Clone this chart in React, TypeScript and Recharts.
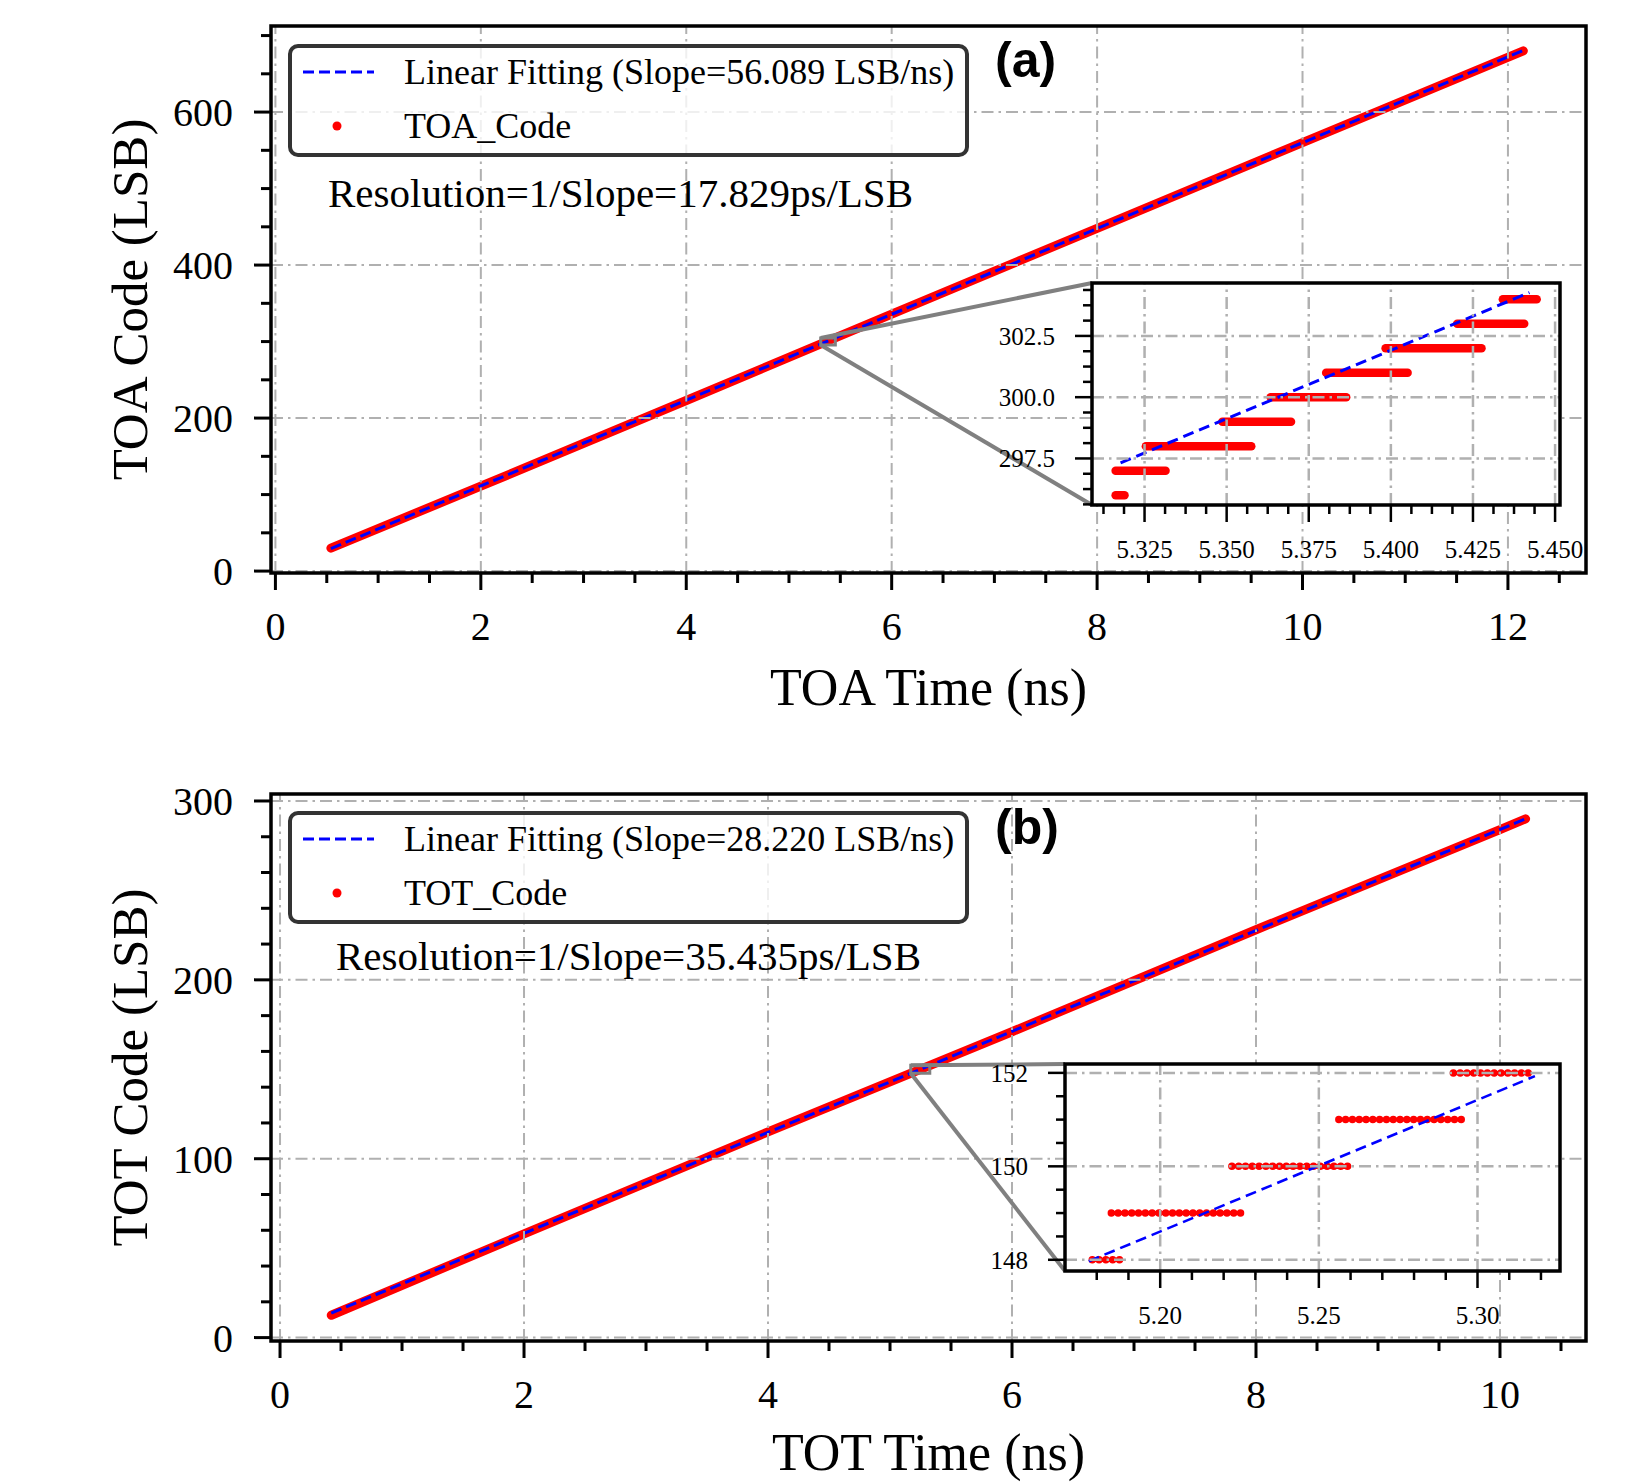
import React from 'react';
import { ComposedChart, Line, XAxis, YAxis, ReferenceLine, ReferenceArea, Legend } from 'recharts';

const SERIF = '"Liberation Serif", "Times New Roman", serif';
const SANS = '"Liberation Sans", Arial, sans-serif';
const RED = '#ff0000';
const BLUE = '#0000ff';
const GRID = '#b0b0b0';

// (a) TOA: code band and linear fit
const toaTime = [0.54, 2, 4, 6, 8, 10, 12.15];
const toaCode = [30, 111, 223, 336, 448, 560, 680];
const toaFitTime = [0.54, 12.15];
const toaFitCode = [29.4, 680.5];

// (a) zoomed steps: one code per row, from first to last sample time
const toaZoomCode = [296, 297, 298, 299, 300, 301, 302, 303, 304];
const toaZoomStart = [5.3162, 5.3162, 5.3254, 5.3487, 5.3634, 5.3803, 5.3984, 5.4202, 5.4341];
const toaZoomEnd = [5.3189, 5.3314, 5.3575, 5.3696, 5.3864, 5.4051, 5.4276, 5.4406, 5.4444];
const toaZoomFitTime = [5.3177, 5.4422];
const toaZoomFitCode = [297.32, 304.27];

// (b) TOT
const totTime = [0.42, 2, 4, 6, 8, 10, 10.21];
const totCode = [12.5, 58, 115, 171, 228, 284, 290];
const totFitTime = [0.42, 10.21];
const totFitCode = [13.7, 290];

const totZoomCode = [148, 149, 150, 151, 152];
const totZoomStart = [5.1786, 5.1846, 5.2226, 5.2563, 5.2924];
const totZoomEnd = [5.1878, 5.2258, 5.2598, 5.2956, 5.3176];
const totZoomFitTime = [5.1775, 5.3181];
const totZoomFitCode = [147.97, 151.93];

// ticks
const toaXMajor = [0, 2, 4, 6, 8, 10, 12];
const toaXMinor = [0, 0.5, 1, 1.5, 2, 2.5, 3, 3.5, 4, 4.5, 5, 5.5, 6, 6.5, 7, 7.5, 8, 8.5, 9, 9.5, 10, 10.5, 11, 11.5, 12, 12.5];
const toaYMajor = [0, 200, 400, 600];
const toaYMinor = [0, 50, 100, 150, 200, 250, 300, 350, 400, 450, 500, 550, 600, 650, 700];
const totXMajor = [0, 2, 4, 6, 8, 10];
const totXMinor = [0, 0.5, 1, 1.5, 2, 2.5, 3, 3.5, 4, 4.5, 5, 5.5, 6, 6.5, 7, 7.5, 8, 8.5, 9, 9.5, 10, 10.5];
const totYMajor = [0, 100, 200, 300];
const totYMinor = [0, 20, 40, 60, 80, 100, 120, 140, 160, 180, 200, 220, 240, 260, 280, 300];

const toaZoomXMajor = [5.325, 5.35, 5.375, 5.4, 5.425, 5.45];
const toaZoomXMinor = [5.3125, 5.31875, 5.325, 5.33125, 5.3375, 5.34375, 5.35, 5.35625, 5.3625, 5.36875, 5.375, 5.38125, 5.3875, 5.39375, 5.4, 5.40625, 5.4125, 5.41875, 5.425, 5.43125, 5.4375, 5.44375, 5.45];
const toaZoomYMajor = [297.5, 300, 302.5];
const toaZoomYMinor = [295.625, 296.25, 296.875, 297.5, 298.125, 298.75, 299.375, 300, 300.625, 301.25, 301.875, 302.5, 303.125, 303.75, 304.375];
const totZoomXMajor = [5.2, 5.25, 5.3];
const totZoomXMinor = [5.18, 5.19, 5.2, 5.21, 5.22, 5.23, 5.24, 5.25, 5.26, 5.27, 5.28, 5.29, 5.3, 5.31, 5.32];
const totZoomYMajor = [148, 150, 152];
const totZoomYMinor = [148, 148.5, 149, 149.5, 150, 150.5, 151, 151.5, 152];

// layout
const CHART_W = 1637;
const CHART_H = 741;
const PLOT_LEFT = 271;
const PLOT_W = 1315;
const PLOT_H = 547;

const isIn = (v: number, list: number[]) => list.some((m) => Math.abs(m - v) < 1e-6);

type TickOpts = { majors: number[]; fmt: (v: number) => string; major: number; minor: number; width: number; fontSize: number; gap: number };

function xTick(o: TickOpts) {
  return (p: any) => {
    const v = p.payload.value;
    const big = isIn(v, o.majors);
    return (
      <g>
        <line x1={p.x} x2={p.x} y1={p.y} y2={p.y + (big ? o.major : o.minor)} stroke="#000" strokeWidth={o.width} />
        {big && (
          <text x={p.x} y={p.y + o.gap} textAnchor="middle" fontSize={o.fontSize} fontFamily={SERIF} fill="#000">
            {o.fmt(v)}
          </text>
        )}
      </g>
    );
  };
}

function yTick(o: TickOpts) {
  return (p: any) => {
    const v = p.payload.value;
    const big = isIn(v, o.majors);
    return (
      <g>
        <line x1={p.x - (big ? o.major : o.minor)} x2={p.x} y1={p.y} y2={p.y} stroke="#000" strokeWidth={o.width} />
        {big && (
          <text x={p.x - o.gap} y={p.y} dy="0.35em" textAnchor="end" fontSize={o.fontSize} fontFamily={SERIF} fill="#000">
            {o.fmt(v)}
          </text>
        )}
      </g>
    );
  };
}

const gridProps = { stroke: GRID, strokeWidth: 2, strokeDasharray: '12 5 2.5 5', zIndex: 650 } as any;

function legendContent(props: any) {
  const items = [...(props.payload || [])].sort((a: any, b: any) => (a.type === 'line' ? 0 : 1) - (b.type === 'line' ? 0 : 1));
  const rows = [24, 78];
  return (
    <div style={{ position: 'relative', width: '100%', height: '100%', boxSizing: 'border-box', border: '4px solid #333', borderRadius: 10, background: 'rgba(255,255,255,0.8)' }}>
      {items.map((e: any, i: number) => (
        <div key={e.value} style={{ position: 'absolute', left: 0, top: rows[i] - 25, height: 50, display: 'flex', alignItems: 'center' }}>
          <svg width={112} height={50}>
            {e.type === 'line' ? (
              <line x1={11} x2={82} y1={25} y2={25} stroke={e.color} strokeWidth={3} strokeDasharray="11 5" />
            ) : (
              <circle cx={45} cy={25} r={4.5} fill={e.color} />
            )}
          </svg>
          <span style={{ fontFamily: SERIF, fontSize: 36, color: '#000', whiteSpace: 'nowrap' }}>{e.value}</span>
        </div>
      ))}
    </div>
  );
}

type Frame = { left: number; top: number; w: number; h: number };

type InsetCfg = {
  frame: Frame;
  xDomain: [number, number];
  yDomain: [number, number];
  code: number[];
  start: number[];
  end: number[];
  fitTime: number[];
  fitCode: number[];
  xMajor: number[];
  xMinor: number[];
  yMajor: number[];
  yMinor: number[];
  xFmt: (v: number) => string;
  yFmt: (v: number) => string;
  dotted: boolean;
};

type PanelCfg = {
  top: number;
  plotTop: number;
  xDomain: [number, number];
  yDomain: [number, number];
  time: number[];
  code: number[];
  fitTime: number[];
  fitCode: number[];
  xMajor: number[];
  xMinor: number[];
  yMajor: number[];
  yMinor: number[];
  xLabel: string;
  yLabel: string;
  xLabelDy: number;
  codeName: string;
  fitName: string;
  legendTop: number;
  resolution: string;
  resX: number;
  resY: number;
  tag: string;
  tagY: number;
  inset: InsetCfg;
};

const toaPanel: PanelCfg = {
  top: 0,
  plotTop: 26,
  xDomain: [-0.043, 12.76],
  yDomain: [-2.5, 712.5],
  time: toaTime,
  code: toaCode,
  fitTime: toaFitTime,
  fitCode: toaFitCode,
  xMajor: toaXMajor,
  xMinor: toaXMinor,
  yMajor: toaYMajor,
  yMinor: toaYMinor,
  xLabel: 'TOA Time (ns)',
  yLabel: 'TOA Code (LSB)',
  xLabelDy: 30,
  codeName: 'TOA_Code',
  fitName: 'Linear Fitting (Slope=56.089 LSB/ns)',
  legendTop: 44,
  resolution: 'Resolution=1/Slope=17.829ps/LSB',
  resX: 328,
  resY: 207,
  tag: '(a)',
  tagY: 77,
  inset: {
    frame: { left: 1092, top: 283, w: 468, h: 222 },
    xDomain: [5.309, 5.4515],
    yDomain: [295.6, 304.66],
    code: toaZoomCode,
    start: toaZoomStart,
    end: toaZoomEnd,
    fitTime: toaZoomFitTime,
    fitCode: toaZoomFitCode,
    xMajor: toaZoomXMajor,
    xMinor: toaZoomXMinor,
    yMajor: toaZoomYMajor,
    yMinor: toaZoomYMinor,
    xFmt: (v) => v.toFixed(3),
    yFmt: (v) => v.toFixed(1),
    dotted: false,
  },
};

const totPanel: PanelCfg = {
  top: 741,
  plotTop: 53,
  xDomain: [-0.074, 10.705],
  yDomain: [-1.9, 303.9],
  time: totTime,
  code: totCode,
  fitTime: totFitTime,
  fitCode: totFitCode,
  xMajor: totXMajor,
  xMinor: totXMinor,
  yMajor: totYMajor,
  yMinor: totYMinor,
  xLabel: 'TOT Time (ns)',
  yLabel: 'TOT Code (LSB)',
  xLabelDy: 40,
  codeName: 'TOT_Code',
  fitName: 'Linear Fitting (Slope=28.220 LSB/ns)',
  legendTop: 70,
  resolution: 'Resolution=1/Slope=35.435ps/LSB',
  resX: 336,
  resY: 970,
  tag: '(b)',
  tagY: 844,
  inset: {
    frame: { left: 1065, top: 1064, w: 495, h: 207 },
    xDomain: [5.17, 5.326],
    yDomain: [147.76, 152.19],
    code: totZoomCode,
    start: totZoomStart,
    end: totZoomEnd,
    fitTime: totZoomFitTime,
    fitCode: totZoomFitCode,
    xMajor: totZoomXMajor,
    xMinor: totZoomXMinor,
    yMajor: totZoomYMajor,
    yMinor: totZoomYMinor,
    xFmt: (v) => v.toFixed(2),
    yFmt: (v) => v.toFixed(0),
    dotted: true,
  },
};

function Panel({ cfg }: { cfg: PanelCfg }) {
  const xAxisH = CHART_H - cfg.plotTop - PLOT_H;
  const codeData = cfg.time.map((t, i) => ({ t, c: cfg.code[i] }));
  const fitData = cfg.fitTime.map((t, i) => ({ t, c: cfg.fitCode[i] }));
  const ins = cfg.inset;
  return (
    <div style={{ position: 'absolute', left: 0, top: cfg.top, width: CHART_W, height: CHART_H }}>
      <ComposedChart width={CHART_W} height={CHART_H} margin={{ top: cfg.plotTop, right: CHART_W - PLOT_LEFT - PLOT_W, bottom: 0, left: 0 }}>
        <XAxis
          dataKey="t"
          type="number"
          domain={cfg.xDomain}
          allowDataOverflow
          ticks={cfg.xMinor}
          interval={0}
          tickLine={false}
          axisLine={false}
          tickSize={0}
          tickMargin={0}
          height={xAxisH}
          tick={xTick({ majors: cfg.xMajor, fmt: (v) => String(v), major: 17, minor: 10, width: 3, fontSize: 40, gap: 67 })}
          label={{ value: cfg.xLabel, position: 'center', dy: cfg.xLabelDy, fontSize: 52, fontFamily: SERIF, fill: '#000' }}
        />
        <YAxis
          type="number"
          domain={cfg.yDomain}
          allowDataOverflow
          ticks={cfg.yMinor}
          interval={0}
          tickLine={false}
          axisLine={false}
          tickSize={0}
          tickMargin={0}
          width={PLOT_LEFT}
          tick={yTick({ majors: cfg.yMajor, fmt: (v) => String(v), major: 17, minor: 10, width: 3, fontSize: 40, gap: 38 })}
          label={{ value: cfg.yLabel, angle: -90, position: 'center', dx: -6.5, fontSize: 51, fontFamily: SERIF, fill: '#000' }}
        />
        <Line data={codeData} dataKey="c" name={cfg.codeName} stroke={RED} strokeWidth={9} strokeLinecap="round" strokeLinejoin="round" dot={false} legendType="circle" isAnimationActive={false} />
        <Line data={fitData} dataKey="c" name={cfg.fitName} stroke={BLUE} strokeWidth={3} strokeDasharray="11 5" dot={false} legendType="line" isAnimationActive={false} />
        {cfg.xMajor.map((v) => (
          <ReferenceLine key={'gx' + v} x={v} {...gridProps} />
        ))}
        {cfg.yMajor.map((v) => (
          <ReferenceLine key={'gy' + v} y={v} {...gridProps} />
        ))}
        <ReferenceArea x1={ins.xDomain[0]} x2={ins.xDomain[1]} y1={ins.yDomain[0]} y2={ins.yDomain[1]} stroke="#808080" strokeWidth={3} fill="none" ifOverflow="visible" {...({ zIndex: 700 } as any)} />
        <ReferenceArea x1={cfg.xDomain[0]} x2={cfg.xDomain[1]} y1={cfg.yDomain[0]} y2={cfg.yDomain[1]} stroke="#000" strokeWidth={3.5} fill="none" ifOverflow="visible" {...({ zIndex: 700 } as any)} />
        <Legend layout="horizontal" verticalAlign="middle" align="center" content={legendContent} wrapperStyle={{ left: 288, top: cfg.legendTop, width: 681, height: 113 }} />
      </ComposedChart>
    </div>
  );
}

function Inset({ cfg }: { cfg: InsetCfg }) {
  const L = 110;
  const T = 10;
  const R = 40;
  const B = 70;
  const f = cfg.frame;
  const fitData = cfg.fitTime.map((t, i) => ({ t, c: cfg.fitCode[i] }));
  return (
    <>
      <div style={{ position: 'absolute', left: f.left, top: f.top, width: f.w, height: f.h, background: '#fff' }} />
      <div style={{ position: 'absolute', left: f.left - L, top: f.top - T }}>
        <ComposedChart width={f.w + L + R} height={f.h + T + B} margin={{ top: T, right: R, bottom: 0, left: 0 }}>
          <XAxis
            dataKey="t"
            type="number"
            domain={cfg.xDomain}
            allowDataOverflow
            ticks={cfg.xMinor}
            interval={0}
            tickLine={false}
            axisLine={false}
            tickSize={0}
            tickMargin={0}
            height={B}
            tick={xTick({ majors: cfg.xMajor, fmt: cfg.xFmt, major: 17, minor: 9, width: 2.5, fontSize: 25, gap: 53 })}
          />
          <YAxis
            type="number"
            domain={cfg.yDomain}
            allowDataOverflow
            ticks={cfg.yMinor}
            interval={0}
            tickLine={false}
            axisLine={false}
            tickSize={0}
            tickMargin={0}
            width={L}
            tick={yTick({ majors: cfg.yMajor, fmt: cfg.yFmt, major: 17, minor: 9, width: 2.5, fontSize: 25, gap: 37 })}
          />
          {cfg.code.map((c, i) => (
            <Line
              key={'s' + c}
              data={[{ t: cfg.start[i], c }, { t: cfg.end[i], c }]}
              dataKey="c"
              stroke={RED}
              strokeWidth={cfg.dotted ? 7.5 : 8.5}
              strokeLinecap="round"
              strokeDasharray={cfg.dotted ? '0 6.8' : undefined}
              dot={false}
              isAnimationActive={false}
            />
          ))}
          <Line data={fitData} dataKey="c" stroke={BLUE} strokeWidth={cfg.dotted ? 2.6 : 3} strokeDasharray="11 6" dot={false} isAnimationActive={false} />
          {cfg.xMajor.map((v) => (
            <ReferenceLine key={'gx' + v} x={v} {...gridProps} strokeWidth={2.5} />
          ))}
          {cfg.yMajor.map((v) => (
            <ReferenceLine key={'gy' + v} y={v} {...gridProps} strokeWidth={2.5} />
          ))}
          <ReferenceArea x1={cfg.xDomain[0]} x2={cfg.xDomain[1]} y1={cfg.yDomain[0]} y2={cfg.yDomain[1]} stroke="#000" strokeWidth={3.5} fill="none" ifOverflow="visible" {...({ zIndex: 700 } as any)} />
        </ComposedChart>
      </div>
    </>
  );
}

function Overlay({ panels }: { panels: PanelCfg[] }) {
  return (
    <svg width={CHART_W} height={CHART_H * 2} style={{ position: 'absolute', left: 0, top: 0 }}>
      {panels.map((p) => {
        const px = (x: number) => PLOT_LEFT + ((x - p.xDomain[0]) / (p.xDomain[1] - p.xDomain[0])) * PLOT_W;
        const py = (y: number) => p.top + p.plotTop + ((p.yDomain[1] - y) / (p.yDomain[1] - p.yDomain[0])) * PLOT_H;
        const ins = p.inset;
        const f = ins.frame;
        return (
          <g key={p.tag}>
            <line x1={px(ins.xDomain[0])} y1={py(ins.yDomain[1])} x2={f.left} y2={f.top} stroke="#808080" strokeWidth={4} />
            <line x1={px(ins.xDomain[0])} y1={py(ins.yDomain[0])} x2={f.left} y2={f.top + f.h} stroke="#808080" strokeWidth={4} />
            <text x={p.resX} y={p.resY} fontFamily={SERIF} fontSize={41} fill="#000">
              {p.resolution}
            </text>
            <text x={995} y={p.tagY} fontFamily={SANS} fontWeight="bold" fontSize={50} fill="#000">
              {p.tag}
            </text>
          </g>
        );
      })}
    </svg>
  );
}

export default function App() {
  return (
    <div style={{ position: 'absolute', left: 0, top: 0, width: CHART_W, height: CHART_H * 2, background: '#fff' }}>
      <Panel cfg={toaPanel} />
      <Panel cfg={totPanel} />
      <Overlay panels={[toaPanel, totPanel]} />
      <Inset cfg={toaPanel.inset} />
      <Inset cfg={totPanel.inset} />
    </div>
  );
}
